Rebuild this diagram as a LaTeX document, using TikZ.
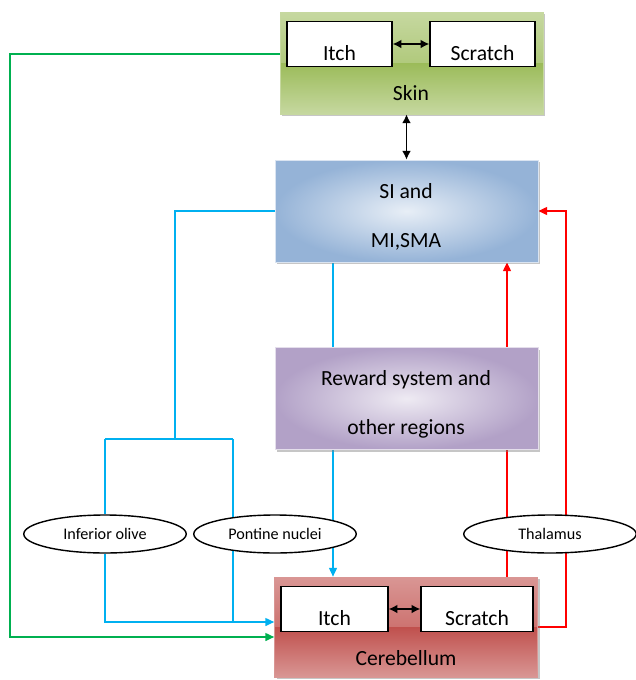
\documentclass[tikz,border=0pt]{standalone}
\usepackage{fontspec}
\setmainfont{Carlito}
\usetikzlibrary{positioning,arrows.meta,calc,shadows,shapes.geometric,backgrounds}
\definecolor{skinmid}{RGB}{155, 187, 89}
\definecolor{skinlight}{RGB}{198, 216, 160}
\definecolor{siblue}{RGB}{149, 179, 215}
\definecolor{rwpurple}{RGB}{178, 161, 199}
\definecolor{cbred}{RGB}{192, 80, 77}
\definecolor{cblight}{RGB}{217, 150, 148}
\definecolor{bline}{RGB}{0, 176, 240}
\definecolor{gline}{RGB}{0, 176, 80}

\tikzset{
  region/.style={minimum width=5.26cm, minimum height=2.04cm, inner sep=0pt,
    drop shadow={shadow xshift=1.2pt, shadow yshift=-1.2pt, opacity=0.45}},
  band shade/.style 2 args={fill=#1, draw=#2, path picture={
    \shade[top color=#2, bottom color=#1] (path picture bounding box.north west) rectangle (path picture bounding box.east);
    \shade[top color=#1, bottom color=#2] (path picture bounding box.west) rectangle (path picture bounding box.south east);
  }},
  glow shade/.style={draw=#1!35!white, inner color=#1!22!white, outer color=#1},
  cell/.style={draw, fill=white, thick, minimum height=0.9cm, inner sep=0pt,
    text height=19pt, text depth=0pt},
  nucleus/.style={draw, ellipse, fill=white, thick, minimum width=3.25cm,
    minimum height=0.76cm, inner sep=0pt, font=\fontsize{9.2}{11}\selectfont},
  link/.style={line width=0.8pt},
  tip/.style={-{Triangle[length=5pt,width=4.5pt]}},
  dbl/.style={thick, {Latex[length=5pt,width=5pt]}-{Latex[length=5pt,width=5pt]}}
}

\begin{document}
\begin{tikzpicture}[x=0.02cm, y=-0.02cm, every node/.style={font=\fontsize{12.3}{15}\selectfont}]
  \useasboundingbox (0,0) rectangle (636,680);

  % regions
  \node[region, band shade={skinmid}{skinlight}] (skin) at (411.5,63) {};
  \node[region, glow shade=siblue] (si) at (406.5,211) {};
  \node[region, glow shade=rwpurple] (reward) at (406.5,398.5) {};
  \node[region, minimum height=2.0cm, band shade={cbred}{cblight}] (cereb) at (406,627) {};

  \node (skintxt) at (411,93) {Skin};
  \node[align=center] (sitxt) at (406,217) {SI and\\[13pt]MI,SMA};
  \node[align=center] (rwtxt) at (406,404) {Reward system and\\[13pt]other regions};
  \node (cbtxt) at (406,658) {Cerebellum};

  % itch / scratch cells
  \node[cell, minimum width=2.1cm] (skinitch) at (339.5,44) {Itch};
  \node[cell, minimum width=2.1cm] (skinscr) at (482.5,44) {Scratch};
  \node[cell, minimum width=2.14cm] (cbitch) at (334.5,609) {Itch};
  \node[cell, minimum width=2.24cm] (cbscr) at (477,609) {Scratch};

  % relay nuclei
  \node[nucleus] (olive) at (105,534) {Inferior olive};
  \node[nucleus] (pontine) at (275,534) {Pontine nuclei};
  \node[nucleus, minimum width=3.45cm] (thal) at (550,534) {Thalamus};

  \coordinate (gleft) at (10,300);
  \coordinate (bsplit) at (175,439);
  \coordinate (bl) at (105,439);
  \coordinate (br) at (233,439);
  \coordinate (rright) at (566,400);

  \draw[dbl] (skinitch) -- (skinscr);
  \draw[dbl] (cbitch) -- (cbscr);
  \draw[dbl] (si.north |- skin.south) -- (si.north);

  \begin{scope}[on background layer]
    % green: skin -> cerebellum
    \draw[link, gline, tip] ($(skinitch.west)+(0,10)$) -| (gleft) |- ($(cereb.west)+(0,10)$);
    % blue: SI -> olive / pontine -> cerebellum
    \draw[link, bline] (si.west) -| (bsplit);
    \draw[link, bline] (bl) -- (br);
    \draw[link, bline] (bl) -- (olive.north);
    \draw[link, bline, tip] (olive.south) |- ($(cereb.west)+(0,-5)$);
    \draw[link, bline] (br) -- ($(br |- cereb.west)+(0,-5)$);
    \draw[link, bline, tip] ($(si.south)+(-73.5,0)$) coordinate (bx) -- (bx |- cereb.north);
    % red: cerebellum -> thalamus -> SI
    \draw[link, red, tip] ($(cereb.north)+(101,0)$) coordinate (rx) -- (rx |- si.south);
    \draw[link, red, tip] (cereb.east) -| (rright) |- (si.east);
  \end{scope}
\end{tikzpicture}
\end{document}
